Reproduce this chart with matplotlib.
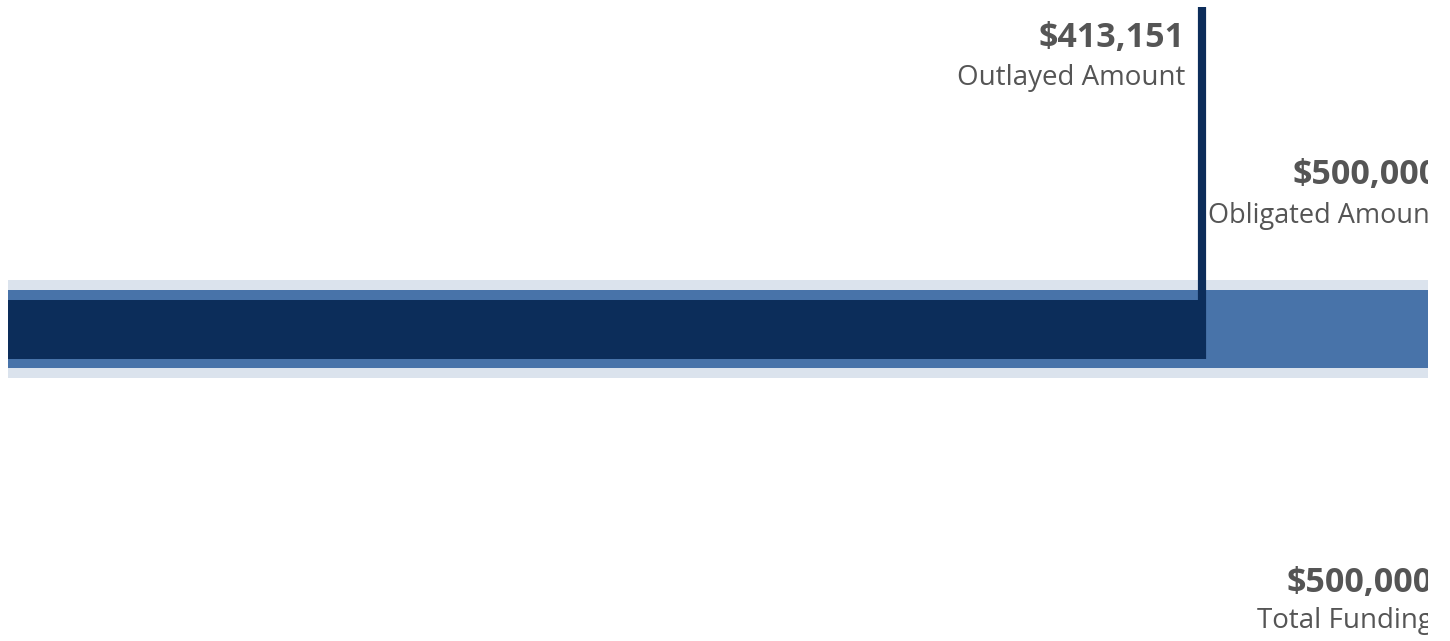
import matplotlib.pyplot as plt

# funding values
total_funding = 500000
obligated = 500000
outlayed = 413151

labels = ["Outlayed Amount", "Obligated Amount", "Total Funding"]

col_total = "#dbe3ed"
col_oblig = "#4873a9"
col_outlay = "#0c2d5a"
col_text = "#555555"

W, H = 1450, 641
fig = plt.figure(figsize=(W / 100, H / 100), dpi=100)
# axes from x=8px to 1428px, full height; work in pixel units on y
ax = fig.add_axes([8 / W, 0, 1420 / W, 1])
ax.set_xlim(0, total_funding * 1420 / 1445)
ax.set_ylim(H, 0)
ax.axis("off")

ax.barh(329, total_funding, height=98, color=col_total, left=0)
ax.barh(329, obligated, height=78, color=col_oblig, left=0)
ax.barh(329.5, outlayed, height=59, color=col_outlay, left=0)

# marker lines
ax.plot([outlayed, outlayed], [7, 359], color=col_outlay, lw=5.9, solid_capstyle="butt")
ax.plot([obligated, obligated], [145, 290], color=col_oblig, lw=5.9, solid_capstyle="butt")

font = "Open Sans"

def label(x, value, name, y_val, y_name, dx, name_size=20):
    ax.annotate("${:,}".format(value), xy=(x, y_val), xytext=(dx, 0),
                textcoords="offset pixels", ha="right", va="baseline",
                fontsize=24.5, fontweight="bold", color=col_text, family=font,
                annotation_clip=False, clip_on=True)
    ax.annotate(name, xy=(x, y_name), xytext=(dx, 0),
                textcoords="offset pixels", ha="right", va="baseline",
                fontsize=name_size, color=col_text, family=font,
                annotation_clip=False, clip_on=True)

label(outlayed, outlayed, labels[0], 47, 85, -17)
label(obligated, obligated, labels[1], 184, 223, -14, name_size=19.5)
label(total_funding, total_funding, labels[2], 592, 628, -20)

fig.savefig("out.png", dpi=100)
